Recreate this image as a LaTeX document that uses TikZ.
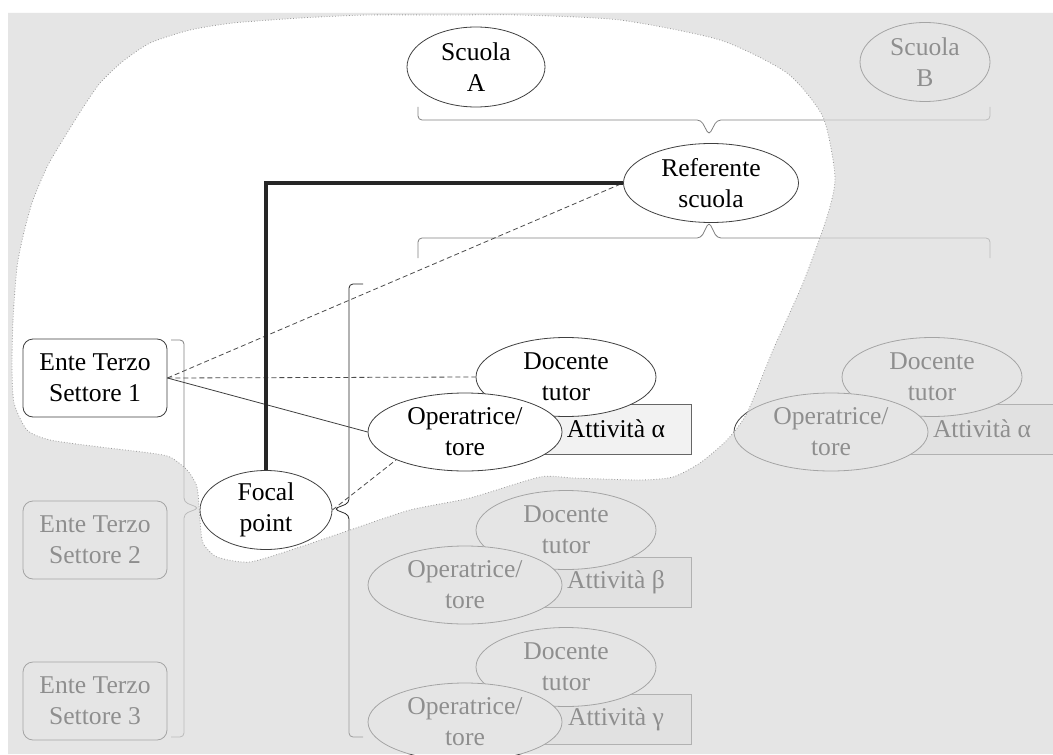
\documentclass[tikz,border=0pt]{standalone}
\usepackage{fontspec}
\setmainfont{Liberation Serif}
\usetikzlibrary{shapes.geometric}
\newcommand{\nodefont}{\fontsize{12.8}{15.5}\selectfont}
\newcommand{\blob}{plot[smooth cycle, tension=0.4] coordinates {(12,367) (13,320) (17,267) (24,232) (33,200) (48,165) (67,133) (84,106) (100,83) (122,62) (150,43) (190,30) (233,23) (300,18) (367,15) (450,15) (520,15) (620,20) (720,40) (787,73) (823,117) (835,177) (827,217) (803,283) (773,350) (747,413) (727,440) (700,463) (673,477) (640,480) (573,478) (540,477) (470,498) (410,510) (350,530) (300,547) (250,562) (217,557) (203,543) (200,520) (197,487) (187,470) (170,457) (150,453) (100,447) (50,440) (27,430) (14,403)}}
\tikzset{
  ell/.style={ellipse, draw=black!75, fill=white, inner sep=0pt, minimum height=39.5pt, align=center, font=\nodefont},
  ente/.style={rectangle, rounded corners=5pt, draw=black!75, fill=white, minimum width=72pt, minimum height=39pt, align=center, font=\nodefont},
  att/.style={rectangle, draw=black!60, fill=black!5, minimum width=75pt, minimum height=25pt, font=\nodefont},
  brc/.style={draw=black!50, rounded corners=2pt},
  dsh/.style={draw=black!70, dash pattern=on 2.5pt off 1.5pt},
}
\begin{document}
\begin{tikzpicture}[x=0.5pt, y=-0.5pt]
\useasboundingbox (0,0) rectangle (1053,754);
\fill[white] (0,0) rectangle (1053,754);
% schools
\node[ell, minimum width=69pt, minimum height=40pt] (scA) at (476,67) {Scuola\\A};
\node[ell, minimum width=65pt] (scB) at (925,62) {Scuola\\B};
\draw[brc] (418,107) -- (418,120) -- (701,120) -- (709,135) -- (717,120) -- (990,120) -- (990,107);
\node[ell, minimum width=87.5pt] (ref) at (711,183) {Referente\\scuola};
\draw[brc] (418,258) -- (418,238) -- (701,238) -- (709,222) -- (717,238) -- (990,238) -- (990,258);
% third sector
\node[ente] (ets1) at (95,378) {Ente Terzo\\Settore 1};
\node[ente] (ets2) at (95,540) {Ente Terzo\\Settore 2};
\node[ente] (ets3) at (95,701) {Ente Terzo\\Settore 3};
\draw[brc] (171,340) -- (184,340) -- (184,502) -- (199,508) -- (184,514) -- (184,737) -- (171,737);
\node[ell, minimum width=66pt] (foc) at (266,510) {Focal\\point};
\draw[brc, draw=black!85] (363,284) -- (349,284) -- (349,503) -- (334,509) -- (349,515) -- (349,737) -- (363,737);
% activities
\node[att] (att1) at (616,429) {Attività α};
\node[ell, minimum width=90pt] (doc1) at (566,377) {Docente\\tutor};
\node[ell, minimum width=97pt, minimum height=39pt] (op1) at (465,432) {Operatrice/\\tore};
\node[att] (attB) at (982,429) {Attività α};
\node[ell, minimum width=90pt] (docB) at (932,377) {Docente\\tutor};
\node[ell, minimum width=97pt, minimum height=39pt] (opB) at (831,432) {Operatrice/\\tore};
\node[att] (att2) at (616,582) {Attività β};
\node[ell, minimum width=90pt] (doc2) at (566,530) {Docente\\tutor};
\node[ell, minimum width=97pt, minimum height=39pt] (op2) at (465,585) {Operatrice/\\tore};
\node[att] (att3) at (616,719) {Attività γ};
\node[ell, minimum width=90pt] (doc3) at (566,667) {Docente\\tutor};
\node[ell, minimum width=97pt, minimum height=39pt] (op3) at (465,722) {Operatrice/\\tore};
% links
\draw[dsh] (ets1.east) -- (ref.west);
\draw[dsh] (ets1.east) -- (doc1.west);
\draw[black!75] (ets1.east) -- (op1.west);
\draw[dsh] (foc.east) -- (op1.south west);
\draw[line width=2pt, black!85] (foc.north) |- (ref.west);
% grey veil outside the network
\fill[black!15, fill opacity=0.66, even odd rule] (8,13) rectangle (1053,754) \blob;
\draw[black!40, densely dotted, thin] \blob;
\end{tikzpicture}
\end{document}
